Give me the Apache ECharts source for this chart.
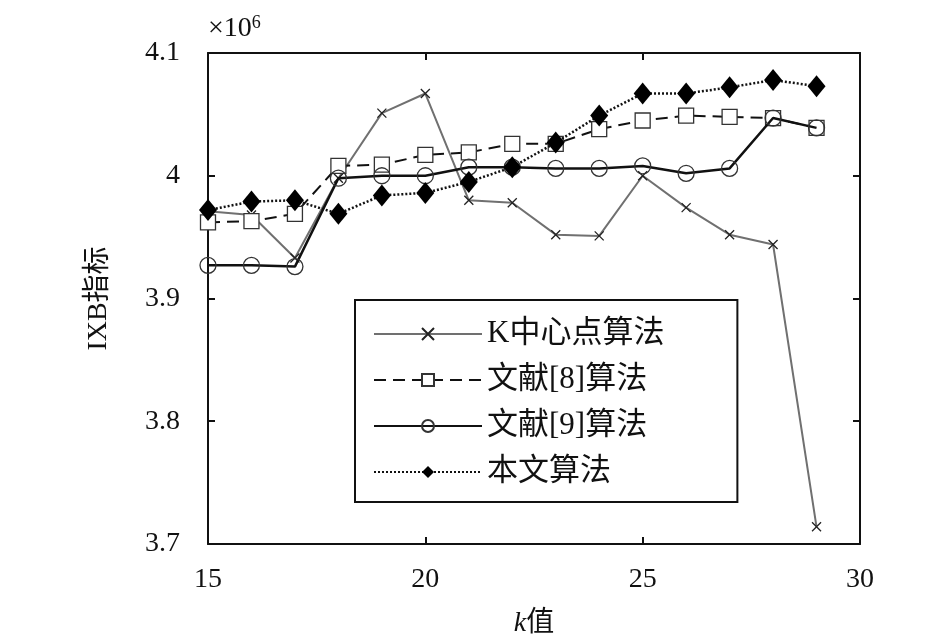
<!DOCTYPE html>
<html>
<head>
<meta charset="utf-8">
<script src="https://cdn.jsdelivr.net/npm/echarts@6/dist/echarts.min.js"></script>
<style>
  html, body { margin: 0; padding: 0; background: #fff; }
  #chart { width: 945px; height: 643px; }
</style>
</head>
<body>
<div id="chart"></div>
<script>
// k 值
var kValues = [15, 16, 17, 18, 19, 20, 21, 22, 23, 24, 25, 26, 27, 28, 29];
// IXB 指标 (×10^6)
var kCenter = [3.971, 3.968, 3.933, 3.998, 4.051, 4.067, 3.980, 3.978, 3.952, 3.951, 4.000, 3.974, 3.952, 3.944, 3.714];
var ref8 = [3.962, 3.963, 3.969, 4.008, 4.009, 4.017, 4.019, 4.026, 4.026, 4.038, 4.045, 4.049, 4.048, 4.047, 4.039];
var ref9 = [3.927, 3.927, 3.926, 3.998, 4.000, 4.000, 4.007, 4.007, 4.006, 4.006, 4.008, 4.002, 4.006, 4.047, 4.039];
var ours = [3.972, 3.979, 3.980, 3.969, 3.984, 3.986, 3.995, 4.007, 4.027, 4.049, 4.067, 4.067, 4.072, 4.078, 4.073];
var seriesNames = ['K中心点算法', '文献[8]算法', '文献[9]算法', '本文算法'];

function pairs(arr) {
    var out = [];
    for (var i = 0; i < arr.length; i++) {
        out.push([kValues[i], arr[i]]);
    }
    return out;
}

var FONT = '"Liberation Serif", "Noto Sans CJK SC", serif';

var axisCommon = {
    axisLine: { show: true, onZero: false, lineStyle: { color: '#111', width: 2 } },
    axisTick: { show: true, inside: true, length: 7, lineStyle: { color: '#111', width: 2 } },
    splitLine: { show: false }
};

var option = {
    backgroundColor: '#fff',
    animation: false,
    grid: { left: 208, right: 85, top: 53, bottom: 98 },
    legend: {
        orient: 'vertical',
        left: 355,
        top: 300,
        padding: [18, 73, 14, 18],
        itemGap: 14,
        itemWidth: 108,
        itemHeight: 15,
        borderColor: '#111',
        borderWidth: 2,
        textStyle: { fontFamily: FONT, fontSize: 31, color: '#111', lineHeight: 32 },
        data: seriesNames
    },
    graphic: [{
        type: 'text',
        left: 208,
        top: 14,
        style: {
            text: '×10{s|6}',
            font: '28px ' + FONT,
            fill: '#111',
            rich: { s: { fontSize: 18, verticalAlign: 'top', padding: [0, 0, 12, 0], fontFamily: FONT } }
        }
    }],
    xAxis: [
        Object.assign({
            type: 'value', min: 15, max: 30, interval: 5, position: 'bottom',
            name: '{i|k}值', nameLocation: 'middle', nameGap: 66,
            nameTextStyle: { fontFamily: FONT, fontSize: 28, color: '#111', rich: { i: { fontStyle: 'italic', fontFamily: FONT, fontSize: 28 } } },
            axisLabel: { fontFamily: FONT, fontSize: 28, color: '#111', margin: 22 }
        }, axisCommon),
        Object.assign({
            type: 'value', min: 15, max: 30, interval: 5, position: 'top',
            axisLabel: { show: false }
        }, axisCommon)
    ],
    yAxis: [
        Object.assign({
            type: 'value', min: 3.7, max: 4.1, interval: 0.1, position: 'left',
            name: 'IXB指标', nameLocation: 'middle', nameGap: 95, nameRotate: 90,
            nameTextStyle: { fontFamily: FONT, fontSize: 28, color: '#111' },
            axisLabel: { fontFamily: FONT, fontSize: 28, color: '#111', margin: 28 }
        }, axisCommon),
        Object.assign({
            type: 'value', min: 3.7, max: 4.1, interval: 0.1, position: 'right',
            axisLabel: { show: false }
        }, axisCommon)
    ],
    series: [
        {
            name: seriesNames[0], type: 'line', data: pairs(kCenter),
            symbol: 'path://M0,0L10,10M10,0L0,10', symbolSize: 9,
            lineStyle: { color: '#707070', width: 2, type: 'solid' },
            itemStyle: { color: '#222', borderColor: '#222', borderWidth: 1.3 },
            z: 3
        },
        {
            name: seriesNames[1], type: 'line', data: pairs(ref8),
            symbol: 'rect', symbolSize: 15,
            lineStyle: { color: '#111', width: 2, type: [12, 7] },
            itemStyle: { color: '#fff', borderColor: '#333', borderWidth: 1.3 },
            z: 4
        },
        {
            name: seriesNames[2], type: 'line', data: pairs(ref9),
            symbol: 'circle', symbolSize: 16,
            lineStyle: { color: '#111', width: 2.5, type: 'solid' },
            itemStyle: { color: 'rgba(255,255,255,0)', borderColor: '#333', borderWidth: 1.3 },
            z: 5
        },
        {
            name: seriesNames[3], type: 'line', data: pairs(ours),
            symbol: 'diamond', symbolSize: [18, 22],
            lineStyle: { color: '#111', width: 2.5, type: [2, 2] },
            itemStyle: { color: '#000', borderColor: '#000', borderWidth: 0 },
            z: 6
        }
    ]
};

var chart = echarts.init(document.getElementById('chart'));
chart.setOption(option);
</script>
</body>
</html>
